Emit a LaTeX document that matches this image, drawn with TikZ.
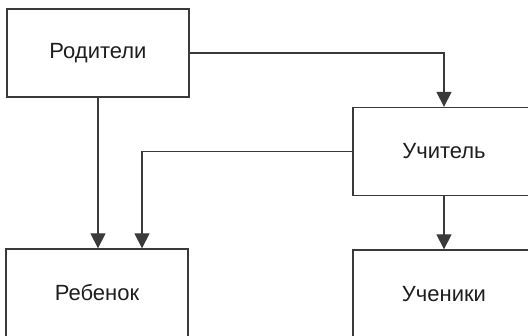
\documentclass[tikz,border=0pt]{standalone}
\usepackage{fontspec}
\setmainfont{Liberation Sans}
\usetikzlibrary{arrows.meta}
\definecolor{ln}{HTML}{3A3A3A}
\definecolor{tx}{HTML}{1E1E1E}
\begin{document}
\begin{tikzpicture}[x=1pt,y=1pt,
  box/.style={draw=ln,line width=1.3pt,minimum width=182pt,minimum height=88pt,inner sep=0pt,text=tx,font=\fontsize{22}{26}\selectfont},
  conn/.style={draw=ln,line width=1.3pt,-{Triangle[length=15pt,width=15pt]}}]
\useasboundingbox (0,0) rectangle (528,336);
\clip (0,0) rectangle (528,336);
\node[box] (par) at (98,283) {Родители};
\node[box] (teach) at (444,184.5) {Учитель};
\node[box] (child) at (97,43) {Ребенок};
\node[box] (pupils) at (444,42) {Ученики};
\draw[conn] (par.east) -| (teach.north);
\draw[conn] (par.south) -- (par.south |- child.north);
\draw[conn] (teach.west) -| ([xshift=45pt]child.north);
\draw[conn] (teach.south) -- (pupils.north);
\end{tikzpicture}
\end{document}
